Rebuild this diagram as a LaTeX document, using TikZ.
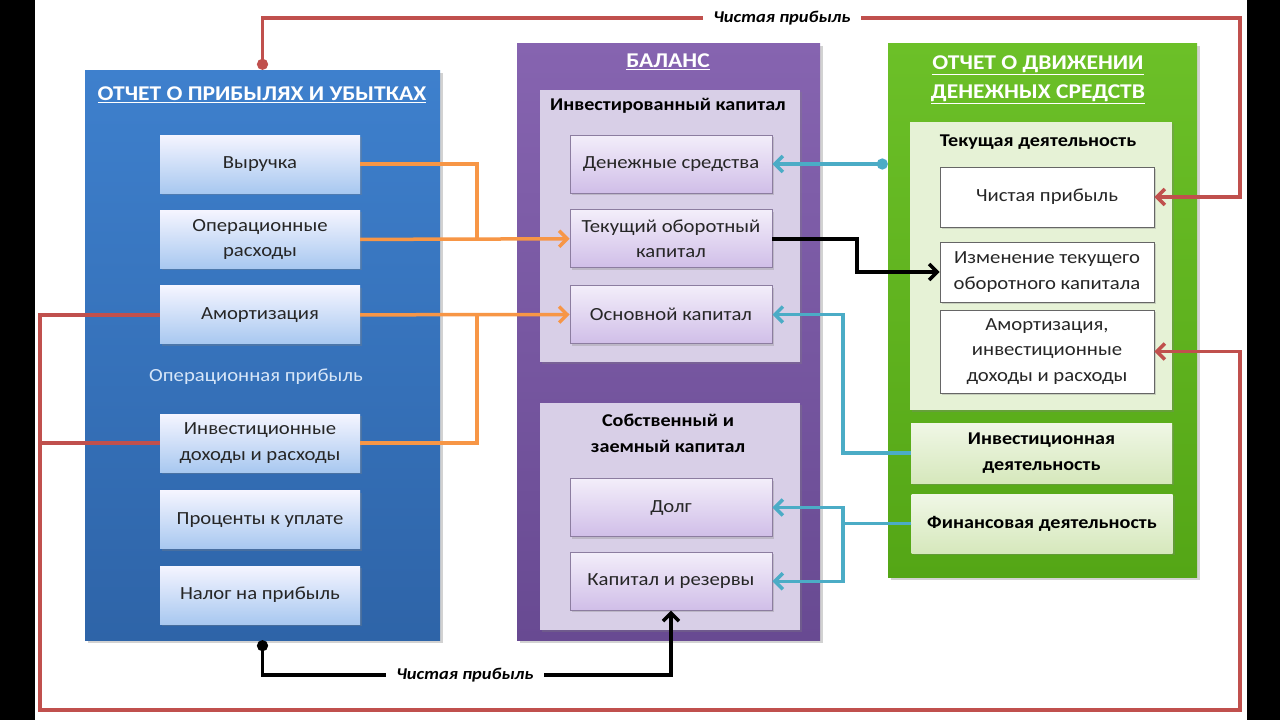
\documentclass[tikz,border=0pt]{standalone}
\usepackage{fontspec}
\setmainfont{Carlito}[FakeStretch=1.12]
\usepackage{xcolor}
\definecolor{plblue}{RGB}{62,128,205}
\definecolor{pldark}{RGB}{46,100,168}
\definecolor{balviolet}{RGB}{134,100,176}
\definecolor{baldark}{RGB}{104,74,146}
\definecolor{cfgreen}{RGB}{108,192,40}
\definecolor{cfdark}{RGB}{84,166,22}
\definecolor{linkred}{RGB}{192,80,77}
\definecolor{linkorange}{RGB}{247,150,70}
\definecolor{linkteal}{RGB}{75,172,198}
\definecolor{txtgray}{RGB}{38,38,38}
\usetikzlibrary{arrows.meta,positioning,shadows}

\tikzset{
  col/.style={minimum width=#1, inner sep=0pt, drop shadow={shadow xshift=3pt,shadow yshift=-3pt,opacity=.35}},
  coltitle/.style={font=\fontsize{21}{29}\selectfont\bfseries, text=white, align=center},
  paneltitle/.style={font=\fontsize{18}{26}\selectfont\bfseries, text=black, align=center},
  boxtext/.style={font=\fontsize{18.5}{25.5}\selectfont, text=txtgray, align=center, inner sep=2pt},
  plbox/.style={boxtext, minimum width=200pt, minimum height=58pt, top color=blue!4!white, bottom color={rgb,255:red,168;green,200;blue,240},
    drop shadow={shadow xshift=2pt,shadow yshift=-2pt,opacity=.3}},
  balbox/.style={boxtext, minimum width=202pt, minimum height=58pt, draw={rgb,255:red,140;green,125;blue,160}, line width=.8pt,
    top color={rgb,255:red,243;green,238;blue,250}, bottom color={rgb,255:red,208;green,190;blue,232},
    drop shadow={shadow xshift=2pt,shadow yshift=-2pt,opacity=.3}},
  cfbox/.style={boxtext, minimum width=214pt, draw=gray!80!black, line width=.8pt, fill=white,
    drop shadow={shadow xshift=2pt,shadow yshift=-2pt,opacity=.3}},
  actbox/.style={paneltitle, minimum width=261pt, minimum height=60pt,
    top color={rgb,255:red,240;green,247;blue,230}, bottom color={rgb,255:red,214;green,232;blue,188},
    drop shadow={shadow xshift=2pt,shadow yshift=-2pt,opacity=.3}},
  link/.style={line width=3.5pt, line join=miter, -{Straight Barb[length=8pt,width=16pt]}},
  netlabel/.style={font=\fontsize{16.5}{19}\selectfont\bfseries\itshape, fill=white, inner xsep=10pt, inner ysep=1pt}
}

\begin{document}
\begin{tikzpicture}[x=1pt,y=-1pt]
  \useasboundingbox (0,0) rectangle (1280,720);
  \fill[white] (0,0) rectangle (1280,720);
  \fill[black] (0,0) rectangle (35,720);
  \fill[black] (1247,0) rectangle (1280,720);

  % three statements
  \node[col=355pt, minimum height=570pt, top color=plblue, bottom color=pldark] (pl) at (262.5,355) {};
  \node[col=303pt, minimum height=597pt, top color=balviolet, bottom color=baldark] (bal) at (668.5,341.5) {};
  \node[col=309pt, minimum height=534pt, top color=cfgreen, bottom color=cfdark] (cf) at (1042.5,310) {};

  \node[coltitle] (pltitle) at (262,95) {\underline{ОТЧЕТ О ПРИБЫЛЯХ И УБЫТКАХ}};
  \node[coltitle] (baltitle) at (668,62) {\underline{БАЛАНС}};
  \node[coltitle] (cftitle) at (1038,80) {\underline{ОТЧЕТ О ДВИЖЕНИИ}\\\underline{ДЕНЕЖНЫХ СРЕДСТВ}};

  % inner panels
  \node[minimum width=260pt, minimum height=272pt, fill={rgb,255:red,216;green,207;blue,231},
    drop shadow={shadow xshift=2pt,shadow yshift=-2pt,opacity=.3}] (invpanel) at (670,226) {};
  \node[minimum width=260pt, minimum height=227pt, fill={rgb,255:red,216;green,207;blue,231},
    drop shadow={shadow xshift=2pt,shadow yshift=-2pt,opacity=.3}] (eqpanel) at (670,516.5) {};
  \node[minimum width=262pt, minimum height=288pt, fill={rgb,255:red,230;green,242;blue,214},
    drop shadow={shadow xshift=2pt,shadow yshift=-2pt,opacity=.3}] (curpanel) at (1041,266) {};
  \node[paneltitle] at (668,106) {Инвестированный капитал};
  \node[paneltitle] at (668,433) {Собственный и\\заемный капитал};
  \node[paneltitle] at (1038,142) {Текущая деятельность};

  % P&L items
  \node[plbox] (rev) at (260,164) {Выручка};
  \node[plbox] (opex) [below=17pt of rev] {Операционные\\расходы};
  \node[plbox] (amort) [below=17pt of opex] {Амортизация};
  \node[boxtext, text={rgb,255:red,215;green,230;blue,248}] (opp) at (256,377) {Операционная прибыль};
  \node[plbox] (inv) [below=70pt of amort] {Инвестиционные\\доходы и расходы};
  \node[plbox] (intr) [below=18pt of inv] {Проценты к уплате};
  \node[plbox] (tax) [below=17pt of intr] {Налог на прибыль};

  % balance items
  \node[balbox] (cash) at (671,164) {Денежные средства};
  \node[balbox] (wc) [below=16pt of cash] {Текущий оборотный\\капитал};
  \node[balbox] (fixc) [below=17pt of wc] {Основной капитал};
  \node[balbox] (debt) at (671,507.5) {Долг};
  \node[balbox] (eq) [below=15pt of debt] {Капитал и резервы};

  % cash flow items
  \node[cfbox, minimum height=60pt] (np) at (1047,197) {Чистая прибыль};
  \node[cfbox, minimum height=60pt] (chwc) at (1047,272) {Изменение текущего\\оборотного капитала};
  \node[cfbox, minimum height=83pt] (amcf) at (1047,351.5) {Амортизация,\\инвестиционные\\доходы и расходы};
  \node[actbox] (invact) at (1041.5,453) {Инвестиционная\\деятельность};
  \node[actbox, minimum height=59pt] (finact) at (1042,523.5) {Финансовая деятельность};

  % connectors
  \coordinate (redtop) at (1240,18);
  \coordinate (redbl) at (40,710);
  \coordinate (redbr) at (1240,710);
  \coordinate (obus) at (477,0);
  \coordinate (tbus) at (843,0);
  \coordinate (kbus) at (857,0);
  \coordinate (blackbot) at (0,675);

  \draw[link, linkred, {Circle[length=11pt]}-{Straight Barb[length=8pt,width=16pt]}] (pl.north) |- (redtop) |- (np.east);
  \draw[link, linkred] (amort.west) -| (redbl) -- (redbr) |- (amcf.east);
  \draw[link, linkred, -] (inv.west) -- (inv.west -| redbl);

  \draw[link, linkorange, -] (rev.east) -| (obus |- wc.west);
  \draw[link, linkorange] (opex.east) -- (wc.west);
  \draw[link, linkorange] (amort.east) -- (fixc.west);
  \draw[link, linkorange, -] (inv.east) -| (obus |- fixc.west);

  \draw[link, linkteal, {Circle[length=11pt]}-{Straight Barb[length=8pt,width=16pt]}] (cf.west |- cash.east) -- (cash.east);
  \draw[link, linkteal] (invact.west) -| (tbus |- fixc.east) -- (fixc.east);
  \draw[link, linkteal] (finact.west) -| (tbus |- debt.east) -- (debt.east);
  \draw[link, linkteal] (finact.west) -| (tbus |- eq.east) -- (eq.east);

  \draw[link, black] (wc.east) -| (kbus |- chwc.west) -- (chwc.west);
  \draw[link, black, {Circle[length=11pt]}-{Straight Barb[length=8pt,width=16pt]}] (pl.south) |- (eq.south |- blackbot) -- (eq.south);

  \node[netlabel] (nptop) at (782,18) {Чистая прибыль};
  \node[netlabel] (npbot) at (465,675) {Чистая прибыль};
\end{tikzpicture}
\end{document}
